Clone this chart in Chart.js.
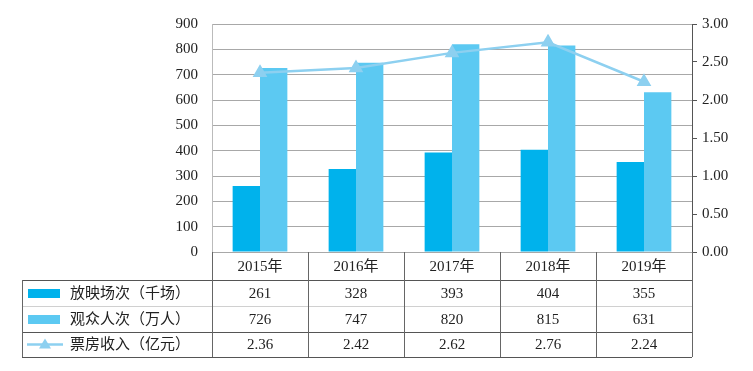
<!DOCTYPE html>
<html>
<head>
<meta charset="utf-8">
<script src="https://cdn.jsdelivr.net/npm/chart.js@4"></script>
<style>
  html, body { margin: 0; padding: 0; background: #fff; }
  #wrap { width: 753px; height: 371px; }
</style>
</head>
<body>
<div id="wrap"><canvas id="myChart" width="753" height="371"></canvas></div>
<script>
// datos del grafico
const YEARS = ['2015年', '2016年', '2017年', '2018年', '2019年'];
const SCREENINGS = [261, 328, 393, 404, 355];      // 放映场次（千场）
const AUDIENCE = [726, 747, 820, 815, 631];        // 观众人次（万人）
const BOX_OFFICE = [2.36, 2.42, 2.62, 2.76, 2.24]; // 票房收入（亿元）
const SERIES_NAMES = ['放映场次（千场）', '观众人次（万人）', '票房收入（亿元）'];
const BOX_OFFICE_TEXT = ['2.36', '2.42', '2.62', '2.76', '2.24'];

const COLOR_DARK = '#00b2ec';
const COLOR_LIGHT = '#5cc9f2';
const COLOR_LINE = '#8dd0f0';
const FONT = "'Liberation Serif', 'Noto Sans CJK SC', serif";

// dibuja la tabla de datos bajo el grafico
const dataTable = {
    id: 'dataTable',
    afterDraw(chart) {
        const ctx = chart.ctx;
        const x = chart.scales.x;
        const area = chart.chartArea;
        const half = (x.getPixelForValue(1) - x.getPixelForValue(0)) / 2;
        const top = area.bottom;
        const rows = [280, 306, 332, 357];
        const left = 22;
        ctx.save();
        ctx.lineWidth = 1;
        // lineas horizontales
        const hline = (y, color, x0) => {
            ctx.strokeStyle = color;
            ctx.beginPath();
            ctx.moveTo(x0, y + 0.5);
            ctx.lineTo(area.right, y + 0.5);
            ctx.stroke();
        };
        hline(rows[0], '#555', left);
        hline(rows[1], '#d0d0d0', left);
        hline(rows[2], '#555', left);
        hline(rows[3], '#555', left);
        // lineas verticales
        ctx.strokeStyle = '#666';
        for (let i = 0; i <= YEARS.length; i++) {
            const px = Math.round(x.getPixelForValue(i) - half) + 0.5;
            ctx.beginPath();
            ctx.moveTo(px, top);
            ctx.lineTo(px, rows[3]);
            ctx.stroke();
        }
        ctx.beginPath();
        ctx.moveTo(left + 0.5, rows[0]);
        ctx.lineTo(left + 0.5, rows[3]);
        ctx.stroke();

        // textos
        ctx.fillStyle = '#222';
        ctx.font = '15px ' + FONT;
        ctx.textAlign = 'center';
        ctx.textBaseline = 'middle';
        const values = [SCREENINGS.map(String), AUDIENCE.map(String), BOX_OFFICE_TEXT];
        YEARS.forEach((year, i) => {
            const cx = x.getPixelForValue(i);
            ctx.fillText(year, cx, (top + rows[0]) / 2 + 1);
            values.forEach((row, r) => {
                ctx.fillText(row[i], cx, (rows[r] + rows[r + 1]) / 2 + 1);
            });
        });

        // leyenda
        ctx.textAlign = 'left';
        SERIES_NAMES.forEach((name, r) => {
            const cy = (rows[r] + rows[r + 1]) / 2;
            if (r < 2) {
                ctx.fillStyle = r === 0 ? COLOR_DARK : COLOR_LIGHT;
                ctx.fillRect(28, cy - 4, 32, 9);
            } else {
                ctx.strokeStyle = COLOR_LINE;
                ctx.lineWidth = 2.5;
                ctx.beginPath();
                ctx.moveTo(27, cy);
                ctx.lineTo(63, cy);
                ctx.stroke();
                ctx.fillStyle = COLOR_LINE;
                ctx.beginPath();
                ctx.moveTo(45, cy - 6);
                ctx.lineTo(51, cy + 4);
                ctx.lineTo(39, cy + 4);
                ctx.closePath();
                ctx.fill();
            }
            ctx.fillStyle = '#222';
            ctx.fillText(name, 70, cy + 1);
        });
        ctx.restore();
    }
};

const chart = document.getElementById('myChart');

new Chart(chart, {
    type: 'bar',
    data: {
        labels: YEARS,
        datasets: [
            {
                type: 'line',
                label: SERIES_NAMES[2],
                data: BOX_OFFICE,
                yAxisID: 'y1',
                borderColor: COLOR_LINE,
                backgroundColor: COLOR_LINE,
                borderWidth: 2.5,
                pointStyle: 'triangle',
                pointRadius: 6,
                pointHoverRadius: 6,
                tension: 0,
                order: 0
            },
            {
                label: SERIES_NAMES[0],
                data: SCREENINGS,
                yAxisID: 'y',
                backgroundColor: COLOR_DARK,
                categoryPercentage: 0.57,
                barPercentage: 1,
                order: 1
            },
            {
                label: SERIES_NAMES[1],
                data: AUDIENCE,
                yAxisID: 'y',
                backgroundColor: COLOR_LIGHT,
                categoryPercentage: 0.57,
                barPercentage: 1,
                order: 1
            }
        ]
    },
    options: {
        responsive: false,
        animation: false,
        layout: { padding: { top: 24, bottom: 119, left: 0, right: 0 } },
        plugins: {
            legend: { display: false },
            tooltip: { enabled: false }
        },
        scales: {
            x: {
                display: false,
                offset: true
            },
            y: {
                position: 'left',
                min: 0,
                max: 900,
                ticks: {
                    stepSize: 100,
                    color: '#222',
                    padding: 14,
                    font: { family: FONT, size: 15 }
                },
                grid: {
                    color: '#a8a8a8',
                    drawTicks: false
                },
                border: { color: '#bbb' },
                afterFit: (scale) => { scale.width = 212; }
            },
            y1: {
                position: 'right',
                min: 0,
                max: 3,
                ticks: {
                    stepSize: 0.5,
                    color: '#222',
                    padding: 5,
                    font: { family: FONT, size: 15 },
                    callback: (v) => Number(v).toFixed(2)
                },
                grid: {
                    drawOnChartArea: false,
                    tickLength: 5,
                    color: '#555'
                },
                border: { color: '#555' },
                afterFit: (scale) => { scale.width = 61; }
            }
        }
    },
    plugins: [dataTable]
});
</script>
</body>
</html>
